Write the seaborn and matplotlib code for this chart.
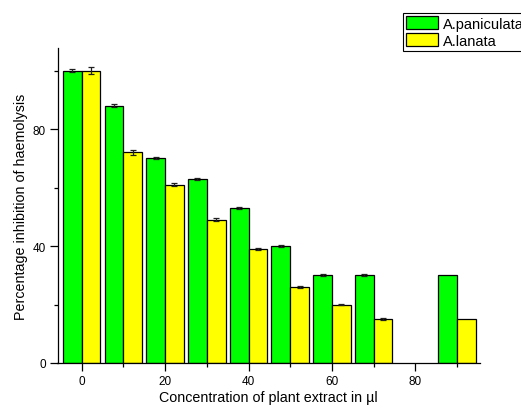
import numpy as np
import pandas as pd
import matplotlib
matplotlib.use("Agg")
import matplotlib.pyplot as plt
import seaborn as sns
from matplotlib.ticker import MultipleLocator, FixedLocator

# Concentration (µl) and percentage inhibition for each extract
concentration = [0, 10, 20, 30, 40, 50, 60, 70, 80, 90]
paniculata = [100, 88, 70, 63, 53, 40, 30, 30, np.nan, 30]
paniculata_err = [0.5, 0.4, 0.3, 0.3, 0.3, 0.3, 0.3, 0.3, np.nan, 0.3]
lanata = [100, 72, 61, 49, 39, 26, 20, 15, np.nan, 15]
lanata_err = [1.2, 0.8, 0.6, 0.5, 0.3, 0.3, 0.3, 0.3, np.nan, 0.3]
species = ["A.paniculata", "A.lanata"]
colors = ["#00FF00", "#FFFF00"]

df = pd.DataFrame({
    "conc": concentration * 2,
    "value": paniculata + lanata,
    "species": [species[0]] * len(concentration) + [species[1]] * len(concentration),
})
errs = {species[0]: paniculata_err, species[1]: lanata_err}

sns.set_style("ticks")
plt.rcParams["font.family"] = ["Liberation Sans", "DejaVu Sans"]
plt.rcParams["text.color"] = "black"
plt.rcParams["axes.labelcolor"] = "black"
plt.rcParams["xtick.color"] = "black"
plt.rcParams["ytick.color"] = "black"

fig = plt.figure(figsize=(5.21, 4.10), dpi=100)
ax = fig.add_axes([57.5 / 521, 1 - 364 / 410, (480 - 57.5) / 521, (364 - 49) / 410])

sns.barplot(data=df, x="conc", y="value", hue="species", hue_order=species,
            palette=colors, native_scale=True, width=0.9, errorbar=None,
            edgecolor="black", linewidth=0.9, saturation=1, ax=ax, legend=True)

# error bars placed on the drawn bars
for cont, sp in zip(ax.containers, species):
    vals = df[df.species == sp]["value"].to_numpy()
    e = np.array(errs[sp])
    xs, ys, es = [], [], []
    for bar, v, ee in zip(cont.patches, vals, e):
        if np.isnan(v):
            continue
        xs.append(bar.get_x() + bar.get_width() / 2)
        ys.append(bar.get_height())
        es.append(ee)
    ax.errorbar(xs, ys, yerr=es, fmt="none", ecolor="#202020", elinewidth=0.9,
                capsize=2, capthick=0.9, zorder=5)

ax.set_xlim(-5.8, 95.5)
ax.set_ylim(0, 107.7)
ax.xaxis.set_major_locator(MultipleLocator(20))
ax.xaxis.set_minor_locator(FixedLocator([10, 30, 50, 70, 90]))
ax.yaxis.set_major_locator(MultipleLocator(40))
ax.yaxis.set_minor_locator(FixedLocator([20, 60, 100]))
ax.tick_params(which="major", length=5.5, width=0.9, labelsize=8.5,
               color="black", labelcolor="black", pad=3)
ax.tick_params(which="minor", length=3, width=0.9, color="black")
for s in ["left", "bottom"]:
    ax.spines[s].set_linewidth(0.9)
    ax.spines[s].set_color("black")
sns.despine(ax=ax)

ax.set_xlabel("Concentration of plant extract in µl", fontsize=10.3, labelpad=2)
ax.set_ylabel("Percentage inhibition of haemolysis", fontsize=10.3, labelpad=3)

leg = ax.legend(loc="upper left", bbox_to_anchor=(403 / 521, 1 - 14 / 410),
                bbox_transform=fig.transFigure, fontsize=10.5, frameon=True,
                fancybox=False, edgecolor="black", framealpha=1,
                handlelength=2.2, handleheight=0.95, handletextpad=0.35,
                borderpad=0.22, labelspacing=0.2, borderaxespad=0)
leg.get_frame().set_linewidth(0.8)

fig.savefig("out.png", dpi=100)
